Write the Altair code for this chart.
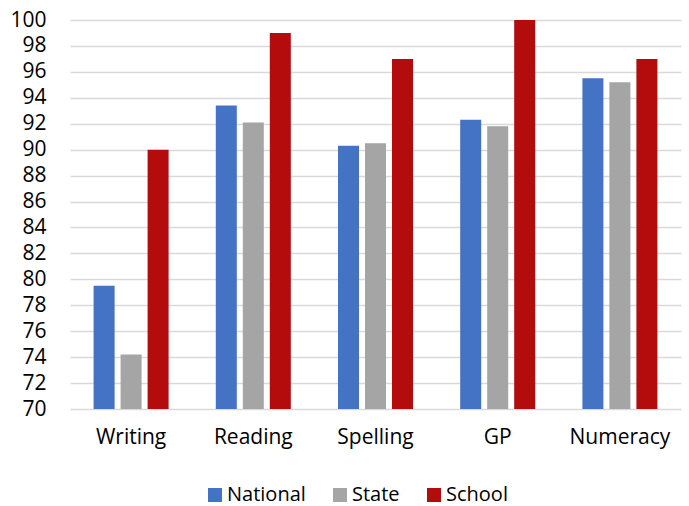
import altair as alt
import pandas as pd

categories = ["Writing", "Reading", "Spelling", "GP", "Numeracy"]
series = ["National", "State", "School"]
national = [79.5, 93.4, 90.3, 92.3, 95.5]
state = [74.2, 92.1, 90.5, 91.8, 95.2]
school = [90, 99, 97, 100, 97]
colors = ["#4472C4", "#A5A5A5", "#B40C0C"]
y_ticks = list(range(70, 101, 2))

rows = []
for s, vals in zip(series, [national, state, school]):
    for c, v in zip(categories, vals):
        rows.append({"Subject": c, "Series": s, "Value": v})
df = pd.DataFrame(rows)

FONT = "Open Sans"

chart = alt.Chart(df).mark_bar(clip=True).encode(
    x=alt.X("Subject:N", sort=categories, title=None,
            scale=alt.Scale(paddingInner=0, paddingOuter=0),
            axis=alt.Axis(labelAngle=0, ticks=False, tickSize=0, domain=False,
                          labelPadding=17, labelFontSize=21, labelFont=FONT,
                          labelColor="#000000", grid=False)),
    xOffset=alt.XOffset("Series:N", sort=series,
                        scale=alt.Scale(paddingInner=0.222, paddingOuter=0.874)),
    y=alt.Y("Value:Q", title=None,
            scale=alt.Scale(domain=[70, 100], nice=False, zero=False),
            axis=alt.Axis(values=y_ticks, ticks=False, tickSize=0, domain=False,
                          labelPadding=24, labelFontSize=21, labelFont=FONT,
                          labelColor="#000000", gridColor="#D9D9D9",
                          gridWidth=1.4)),
    color=alt.Color("Series:N", sort=series,
                    scale=alt.Scale(domain=series, range=colors),
                    legend=alt.Legend(title=None, orient="none", direction="horizontal",
                                      legendX=135, legendY=465,
                                      symbolType="square", symbolSize=196,
                                      symbolStrokeWidth=0, labelFontSize=20,
                                      labelFont=FONT, labelColor="#000000",
                                      labelOffset=2, columnPadding=24)),
).properties(
    width=611, height=389,
    autosize=alt.AutoSizeParams(type="none"),
    padding={"left": 70, "top": 20, "right": 8, "bottom": 97},
).configure_view(stroke=None)

chart.save("out.html", embed_options={"renderer": "svg", "actions": False})
